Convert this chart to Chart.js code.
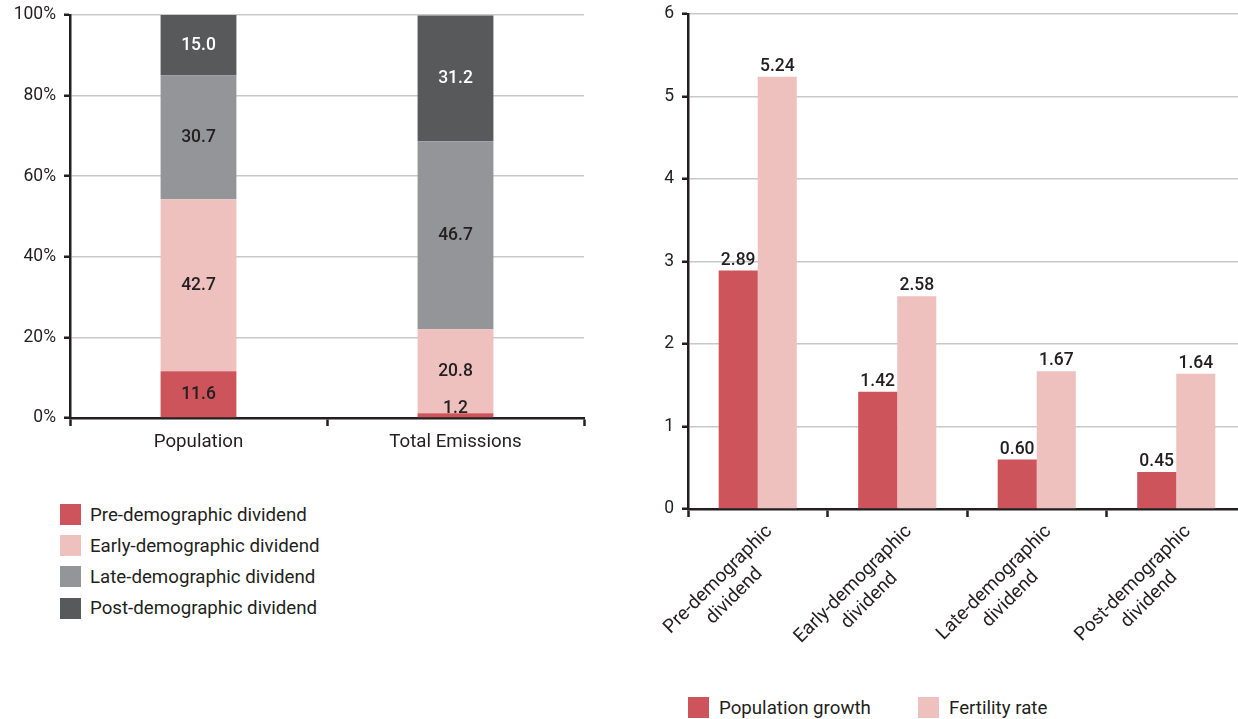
<!DOCTYPE html>
<html>
<head>
<meta charset="utf-8">
<script src="https://cdn.jsdelivr.net/npm/chart.js@4.4.1/dist/chart.umd.min.js"></script>
<style>
    html, body { margin: 0; padding: 0; background: #fff; width: 1238px; height: 719px; overflow: hidden; }
    body { font-family: Roboto, sans-serif; color: #231f20; position: relative; }
    #left-box { position: absolute; left: 0; top: 0; width: 600px; height: 470px; }
    #right-box { position: absolute; left: 620px; top: 0; width: 640px; height: 680px; }
    .legend-item { position: absolute; display: flex; align-items: center; font-size: 18.7px; height: 21px; white-space: nowrap; }
    .legend-item .sw { width: 21px; height: 21px; margin-right: 9px; flex: none; }
</style>
</head>
<body>
<div id="left-box"><canvas id="shareChart"></canvas></div>
<div id="right-box"><canvas id="rateChart"></canvas></div>
<div id="left-legend"></div>
<div id="right-legend"></div>

<script>
// Left chart: share of population / emissions by dividend group (%)
const shareCategories = ['Population', 'Total Emissions'];
const groupNames = ['Pre-demographic dividend', 'Early-demographic dividend', 'Late-demographic dividend', 'Post-demographic dividend'];
const preShare = [11.6, 1.2];
const earlyShare = [42.7, 20.8];
const lateShare = [30.7, 46.7];
const postShare = [15.0, 31.2];

// Right chart: growth and fertility by dividend group
const rateCategories = [
    ['Pre-demographic', 'dividend'],
    ['Early-demographic', 'dividend'],
    ['Late-demographic', 'dividend'],
    ['Post-demographic', 'dividend']
];
const rateNames = ['Population growth', 'Fertility rate'];
const popGrowth = [2.89, 1.42, 0.60, 0.45];
const fertility = [5.24, 2.58, 1.67, 1.64];

const percentTicks = [0, 20, 40, 60, 80, 100];

const RED = '#cd545b';
const PINK = '#eec1bf';
const GREY = '#939598';
const DARK = '#58595b';
const INK = '#231f20';
const GRID = '#c9c9c9';
const FONT = 'Roboto, sans-serif';

Chart.defaults.font.family = FONT;
Chart.defaults.color = INK;

// Value labels, drawn on top of the bars
const barValues = {
    id: 'barValues',
    afterDatasetsDraw(chart, args, opts) {
        const ctx = chart.ctx;
        ctx.save();
        ctx.font = '500 17.5px ' + FONT;
        ctx.textAlign = 'center';
        chart.data.datasets.forEach((ds, di) => {
            const meta = chart.getDatasetMeta(di);
            meta.data.forEach((bar, i) => {
                const text = ds.data[i].toFixed(opts.digits);
                if (opts.inside) {
                    const y = Math.min((bar.y + bar.base) / 2, chart.chartArea.bottom - 9);
                    ctx.fillStyle = opts.colors[di];
                    ctx.textBaseline = 'middle';
                    ctx.fillText(text, bar.x, y);
                } else {
                    ctx.fillStyle = INK;
                    ctx.textBaseline = 'alphabetic';
                    ctx.fillText(text, bar.x, bar.y - 6);
                }
            });
        });
        ctx.restore();
    }
};

// Rotated two-line category labels, lines centred on each other
const slantLabels = {
    id: 'slantLabels',
    afterDraw(chart) {
        const x = chart.scales.x;
        const ctx = chart.ctx;
        ctx.save();
        ctx.font = '19px ' + FONT;
        ctx.fillStyle = INK;
        ctx.textAlign = 'center';
        ctx.textBaseline = 'top';
        chart.data.labels.forEach((lines, i) => {
            const cx = x.getPixelForValue(i);
            const w = Math.max(...lines.map(l => ctx.measureText(l).width));
            ctx.save();
            ctx.translate(cx + 5, x.top + 13);
            ctx.rotate(-Math.PI / 4);
            lines.forEach((l, k) => ctx.fillText(l, -w / 2, k * 23));
            ctx.restore();
        });
        ctx.restore();
    }
};

// let the layout padding alone decide where the plot starts
const noEdgePad = s => { s.paddingTop = 0; s.paddingBottom = 0; };

const tickFont = { size: 17.5, family: FONT };

new Chart(document.getElementById('shareChart'), {
    type: 'bar',
    data: {
        labels: shareCategories,
        datasets: [
            { label: groupNames[0], data: preShare, backgroundColor: RED },
            { label: groupNames[1], data: earlyShare, backgroundColor: PINK },
            { label: groupNames[2], data: lateShare, backgroundColor: GREY },
            { label: groupNames[3], data: postShare, backgroundColor: DARK }
        ]
    },
    options: {
        responsive: true,
        maintainAspectRatio: false,
        animation: false,
        layout: { padding: { top: 15, right: 16, left: 0, bottom: 0 } },
        datasets: { bar: { barPercentage: 1, categoryPercentage: 0.295 } },
        plugins: {
            legend: { display: false },
            tooltip: { enabled: false },
            barValues: { inside: true, digits: 1, colors: [INK, INK, INK, '#ffffff'] }
        },
        scales: {
            x: {
                stacked: true,
                grid: { drawOnChartArea: false, drawTicks: true, tickLength: 8, tickColor: INK, tickWidth: 2.5 },
                border: { color: INK, width: 2.5 },
                ticks: { color: INK, font: { size: 18.7, family: FONT }, padding: 5 },
                afterFit: s => { s.height = 52; }
            },
            y: {
                stacked: true,
                min: 0,
                max: 100,
                afterBuildTicks: s => { s.ticks = percentTicks.map(v => ({ value: v })); },
                grid: { color: GRID, lineWidth: 1.5, tickLength: 6, tickColor: INK, tickWidth: 2.5 },
                border: { color: INK, width: 2.5 },
                ticks: { color: INK, font: tickFont, padding: 8, callback: v => v + '%' },
                afterFit: s => { s.width = 70; noEdgePad(s); }
            }
        }
    },
    plugins: [barValues]
});

new Chart(document.getElementById('rateChart'), {
    type: 'bar',
    data: {
        labels: rateCategories,
        datasets: [
            { label: rateNames[0], data: popGrowth, backgroundColor: RED },
            { label: rateNames[1], data: fertility, backgroundColor: PINK }
        ]
    },
    options: {
        responsive: true,
        maintainAspectRatio: false,
        animation: false,
        layout: { padding: { top: 14, right: 14, left: 0, bottom: 0 } },
        datasets: { bar: { barPercentage: 1, categoryPercentage: 0.56 } },
        plugins: {
            legend: { display: false },
            tooltip: { enabled: false },
            barValues: { inside: false, digits: 2 }
        },
        scales: {
            x: {
                grid: { drawOnChartArea: false, drawTicks: true, tickLength: 8, tickColor: INK, tickWidth: 2.5 },
                border: { color: INK, width: 2.5 },
                ticks: { display: false },
                afterFit: s => { s.height = 171; }
            },
            y: {
                min: 0,
                max: 6,
                ticks: { stepSize: 1, color: INK, font: tickFont, padding: 8 },
                grid: { color: GRID, lineWidth: 1.5, tickLength: 6, tickColor: INK, tickWidth: 2.5 },
                border: { color: INK, width: 2.5 },
                afterFit: s => { s.width = 68; noEdgePad(s); }
            }
        }
    },
    plugins: [barValues, slantLabels]
});

// HTML legends
const shareColors = [RED, PINK, GREY, DARK];
const leftLegend = document.getElementById('left-legend');
groupNames.forEach((name, i) => {
    const item = document.createElement('div');
    item.className = 'legend-item';
    item.style.left = '60px';
    item.style.top = (504 + i * 31.2) + 'px';
    item.innerHTML = `<span class="sw" style="background:${shareColors[i]}"></span>${name}`;
    leftLegend.appendChild(item);
});

const rateColors = [RED, PINK];
const rateLegendX = [688, 918];
const rightLegend = document.getElementById('right-legend');
rateNames.forEach((name, i) => {
    const item = document.createElement('div');
    item.className = 'legend-item';
    item.style.left = rateLegendX[i] + 'px';
    item.style.top = '697px';
    item.innerHTML = `<span class="sw" style="background:${rateColors[i]}; margin-right:10px"></span>${name}`;
    rightLegend.appendChild(item);
});
</script>
</body>
</html>
